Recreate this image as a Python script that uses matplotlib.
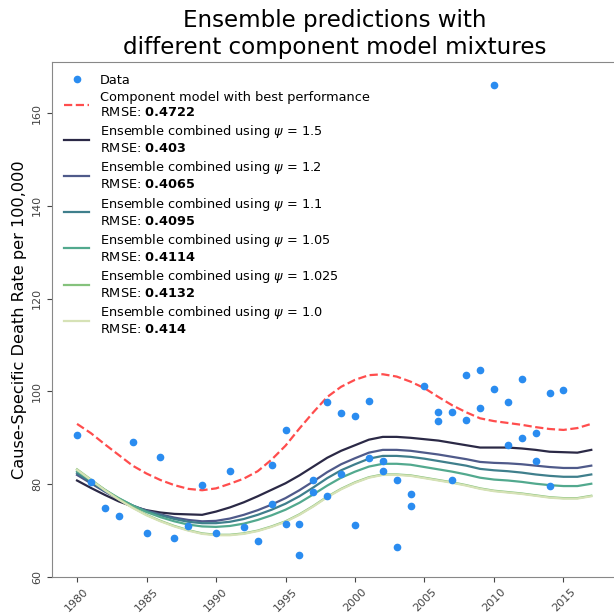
import matplotlib
matplotlib.use("Agg")
import matplotlib.pyplot as plt

years = list(range(1980, 2018))

best_component = [93.0, 91.0, 88.6, 86.3, 84.0, 82.3, 80.9, 79.8, 79.0, 78.7,
                  79.1, 80.1, 81.2, 82.8, 85.3, 88.3, 92.0, 95.5, 98.8, 101.0,
                  102.5, 103.5, 103.7, 103.2, 102.1, 100.7, 98.8, 97.0, 95.5, 94.2,
                  93.6, 93.2, 92.8, 92.3, 91.9, 91.7, 92.1, 93.0]

ens_1_5 = [80.8, 79.2, 77.7, 76.3, 75.2, 74.4, 73.9, 73.6, 73.5, 73.4,
           74.1, 75.0, 76.1, 77.4, 78.8, 80.2, 81.9, 83.8, 85.7, 87.2,
           88.4, 89.6, 90.2, 90.2, 90.0, 89.7, 89.4, 88.9, 88.4, 87.9,
           87.9, 87.9, 87.7, 87.4, 87.0, 86.9, 86.8, 87.4]
ens_1_2 = [82.0, 80.2, 78.4, 76.8, 75.4, 74.3, 73.5, 72.8, 72.3, 72.0,
           72.1, 72.6, 73.4, 74.4, 75.6, 77.0, 78.7, 80.6, 82.6, 84.3,
           85.6, 86.8, 87.4, 87.4, 87.2, 86.8, 86.4, 85.9, 85.4, 84.8,
           84.6, 84.5, 84.3, 84.0, 83.7, 83.5, 83.5, 84.0]
ens_1_1 = [82.4, 80.5, 78.6, 76.9, 75.4, 74.2, 73.3, 72.5, 71.9, 71.6,
           71.6, 71.9, 72.5, 73.4, 74.5, 75.8, 77.4, 79.3, 81.3, 83.0,
           84.3, 85.5, 86.1, 86.1, 85.9, 85.5, 85.0, 84.5, 84.0, 83.3,
           83.0, 82.8, 82.5, 82.1, 81.8, 81.6, 81.6, 82.1]
ens_1_05 = [82.8, 80.8, 78.8, 77.0, 75.4, 74.0, 72.9, 72.0, 71.3, 70.9,
            70.8, 71.0, 71.5, 72.3, 73.3, 74.5, 76.0, 77.8, 79.7, 81.4,
            82.7, 83.8, 84.4, 84.4, 84.2, 83.7, 83.2, 82.7, 82.1, 81.4,
            81.0, 80.8, 80.5, 80.1, 79.8, 79.6, 79.6, 80.1]
ens_1_025 = [83.2, 81.0, 78.8, 76.8, 75.0, 73.4, 72.1, 71.0, 70.1, 69.4,
             69.1, 69.1, 69.4, 70.0, 70.9, 72.0, 73.5, 75.3, 77.3, 79.0,
             80.4, 81.5, 82.1, 82.1, 81.9, 81.4, 80.9, 80.4, 79.8, 79.1,
             78.6, 78.3, 78.0, 77.6, 77.2, 77.0, 77.0, 77.5]
ens_1_0 = [83.1, 80.9, 78.7, 76.7, 74.9, 73.3, 72.0, 70.9, 70.0, 69.3,
           69.0, 69.0, 69.3, 69.9, 70.8, 71.9, 73.4, 75.2, 77.2, 78.9,
           80.3, 81.4, 82.0, 82.0, 81.8, 81.3, 80.8, 80.3, 79.7, 79.0,
           78.5, 78.2, 77.9, 77.5, 77.1, 76.9, 76.9, 77.4]

data_years = [1980, 1981, 1982, 1983, 1984, 1985, 1986, 1987, 1988, 1989,
              1990, 1991, 1992, 1993, 1994, 1994, 1995, 1995, 1996, 1996,
              1997, 1997, 1998, 1998, 1999, 1999, 2000, 2000, 2001, 2001,
              2002, 2002, 2003, 2003, 2004, 2004, 2005, 2006, 2006, 2007,
              2007, 2008, 2008, 2009, 2009, 2010, 2010, 2011, 2011, 2012,
              2012, 2013, 2013, 2014, 2014, 2015]
data_values = [90.6, 80.5, 74.9, 73.1, 89.2, 69.4, 85.9, 68.5, 71.1, 79.8,
               69.5, 82.9, 70.8, 67.8, 84.1, 75.7, 91.7, 71.4, 71.4, 64.7,
               80.9, 78.4, 97.8, 77.5, 95.4, 82.3, 94.8, 71.3, 98.0, 85.6,
               85.0, 82.8, 80.9, 66.4, 77.8, 75.3, 101.2, 95.6, 93.6, 95.6,
               80.8, 103.5, 93.8, 104.6, 96.4, 100.5, 166.0, 97.8, 88.4, 102.6,
               90.0, 91.0, 85.1, 99.7, 79.6, 100.3]

psis = ["1.5", "1.2", "1.1", "1.05", "1.025", "1.0"]
rmse_best = "0.4722"
rmse_ens = ["0.403", "0.4065", "0.4095", "0.4114", "0.4132", "0.414"]
ens_series = [ens_1_5, ens_1_2, ens_1_1, ens_1_05, ens_1_025, ens_1_0]
ens_colors = ["#2b2946", "#4f5a8a", "#3f7f8c", "#52a98e", "#85c27c", "#d6e2b6"]

xticks = [1980, 1985, 1990, 1995, 2000, 2005, 2010, 2015]
yticks = [60, 80, 100, 120, 140, 160]

fig = plt.figure(figsize=(6.14, 6.15), dpi=100)
ax = fig.add_axes([52/614, 1 - 577/615, 565/614, (577 - 62)/615])

ax.plot(data_years, data_values, 'o', color="#2a8cf0", markersize=4.5,
        label="Data", zorder=5)
ax.plot(years, best_component, '--', color="#ff4d4d", lw=1.6,
        label="Component model with best performance\nRMSE: $\\bf{" + rmse_best + "}$")
for psi, rm, ser, c in zip(psis, rmse_ens, ens_series, ens_colors):
    ax.plot(years, ser, '-', color=c, lw=1.6,
            label="Ensemble combined using $\\psi$ = " + psi + "\nRMSE: $\\bf{" + rm + "}$")

ax.set_xlim(1978.2, 2018.85)
ax.set_ylim(60, 171)
ax.set_xticks(xticks)
ax.set_yticks(yticks)
ax.tick_params(axis='x', labelrotation=45, labelsize=8, colors="#444444")
ax.tick_params(axis='y', labelrotation=90, labelsize=8, colors="#444444")
for lab in ax.get_yticklabels():
    lab.set_va('center')
for s in ax.spines.values():
    s.set_color("#888888")
ax.set_ylabel("Cause-Specific Death Rate per 100,000", fontsize=11.6)
ax.set_title("Ensemble predictions with\ndifferent component model mixtures", fontsize=16.6)
ax.legend(loc="upper left", frameon=False, fontsize=9.3, labelspacing=0.33,
          handlelength=2.0)

fig.savefig("out.png", dpi=100)
